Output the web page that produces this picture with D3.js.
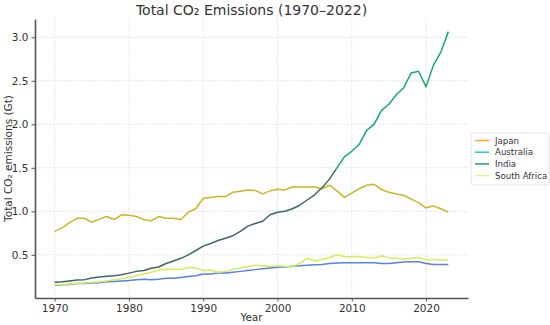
<!DOCTYPE html>
<html>
<head>
<meta charset="utf-8">
<script src="https://cdn.jsdelivr.net/npm/d3@7"></script>
<style>
  body { margin: 0; background: #fff; }
  text { font-family: "DejaVu Sans", sans-serif; }
</style>
</head>
<body>
<script>
const years = d3.range(1970, 2024);

const japan = [0.77, 0.81, 0.87, 0.92, 0.92, 0.875, 0.91, 0.94, 0.905, 0.96,
  0.955, 0.94, 0.905, 0.89, 0.94, 0.92, 0.92, 0.905, 0.99, 1.03,
  1.15, 1.16, 1.17, 1.17, 1.22, 1.23, 1.245, 1.24, 1.20, 1.235,
  1.254, 1.246, 1.28, 1.28, 1.28, 1.28, 1.26, 1.30, 1.235, 1.16,
  1.21, 1.26, 1.30, 1.31, 1.25, 1.22, 1.20, 1.185, 1.14, 1.10,
  1.04, 1.06, 1.03, 0.99];
const australia = [0.15, 0.155, 0.16, 0.17, 0.17, 0.175, 0.18, 0.19, 0.195, 0.20,
  0.205, 0.215, 0.22, 0.215, 0.22, 0.23, 0.23, 0.24, 0.25, 0.26,
  0.28, 0.28, 0.29, 0.29, 0.30, 0.31, 0.32, 0.33, 0.34, 0.35,
  0.356, 0.36, 0.37, 0.375, 0.38, 0.386, 0.39, 0.40, 0.405, 0.41,
  0.41, 0.41, 0.41, 0.41, 0.40, 0.40, 0.41, 0.417, 0.42, 0.42,
  0.40, 0.39, 0.39, 0.39];
const india = [0.186, 0.19, 0.20, 0.21, 0.215, 0.235, 0.245, 0.255, 0.26, 0.27,
  0.29, 0.31, 0.32, 0.345, 0.36, 0.40, 0.43, 0.46, 0.50, 0.55,
  0.60, 0.63, 0.665, 0.69, 0.72, 0.77, 0.83, 0.86, 0.886, 0.96,
  0.99, 1.00, 1.03, 1.07, 1.13, 1.19, 1.27, 1.37, 1.50, 1.625,
  1.69, 1.77, 1.93, 2.00, 2.16, 2.23, 2.34, 2.42, 2.59, 2.61,
  2.43, 2.68, 2.83, 3.065];
const southAfrica = [0.155, 0.16, 0.165, 0.17, 0.175, 0.185, 0.19, 0.20, 0.215, 0.225,
  0.24, 0.26, 0.28, 0.30, 0.325, 0.335, 0.335, 0.335, 0.355, 0.35,
  0.32, 0.325, 0.30, 0.31, 0.33, 0.35, 0.365, 0.38, 0.375, 0.37,
  0.375, 0.37, 0.36, 0.405, 0.46, 0.43, 0.45, 0.47, 0.50, 0.48,
  0.475, 0.48, 0.47, 0.465, 0.49, 0.465, 0.465, 0.45, 0.46, 0.47,
  0.445, 0.445, 0.44, 0.44];

const xTicks = [1970, 1980, 1990, 2000, 2010, 2020];
const yTicks = [0.5, 1.0, 1.5, 2.0, 2.5, 3.0];

const series = [
  {name: 'Japan', values: japan, legend: '#ffa033', stroke: '#cbb428'},
  {name: 'Australia', values: australia, legend: '#22c8d8', stroke: '#5c7fe2'},
  {name: 'India', values: india, legend: '#14a67e', stroke: 'url(#indiaGrad)'},
  {name: 'South Africa', values: southAfrica, legend: '#e6f27e', stroke: '#d6ee58'}
];

const width = 550;
const height = 325;
const margin = {left: 35, right: 82, top: 19, bottom: 27};

const svg = d3.select('body')
  .append('svg')
  .attr('width', width)
  .attr('height', height);

const xScale = d3.scaleLinear()
  .domain([1967.35, 2025.65])
  .range([margin.left, width - margin.right]);

const yScale = d3.scaleLinear()
  .domain([0.004, 3.21])
  .range([height - margin.bottom, margin.top]);

// India line turns from slate to green above 1.5 Gt
const grad = svg.append('defs').append('linearGradient')
  .attr('id', 'indiaGrad')
  .attr('gradientUnits', 'userSpaceOnUse')
  .attr('x1', 0).attr('x2', 0)
  .attr('y1', yScale(0)).attr('y2', yScale(3.2));
const split = (yScale(0) - yScale(1.48)) / (yScale(0) - yScale(3.2));
grad.append('stop').attr('offset', split).attr('stop-color', '#3f6566');
grad.append('stop').attr('offset', split).attr('stop-color', '#14a67e');

// grid
svg.append('g')
  .selectAll('line')
  .data(xTicks)
  .join('line')
  .attr('x1', d => xScale(d)).attr('x2', d => xScale(d))
  .attr('y1', margin.top).attr('y2', height - margin.bottom)
  .attr('stroke', '#d8d8d8').attr('stroke-width', 0.8)
  .attr('stroke-dasharray', '1.5,1.5');

svg.append('g')
  .selectAll('line')
  .data(yTicks)
  .join('line')
  .attr('x1', margin.left).attr('x2', width - margin.right)
  .attr('y1', d => yScale(d)).attr('y2', d => yScale(d))
  .attr('stroke', '#d8d8d8').attr('stroke-width', 0.8)
  .attr('stroke-dasharray', '1.5,1.5');

// axes
const xAxis = d3.axisBottom(xScale)
  .tickValues(xTicks)
  .tickFormat(d3.format('d'))
  .tickSize(3.5)
  .tickSizeOuter(0);
const yAxis = d3.axisLeft(yScale)
  .tickValues(yTicks)
  .tickFormat(d3.format('.1f'))
  .tickSize(3.5)
  .tickSizeOuter(0);

const xG = svg.append('g')
  .attr('transform', `translate(0, ${height - margin.bottom})`)
  .call(xAxis);
const yG = svg.append('g')
  .attr('transform', `translate(${margin.left}, 0)`)
  .call(yAxis);

[xG, yG].forEach(g => {
  g.select('.domain').attr('stroke', '#555').attr('stroke-width', 1.6);
  g.selectAll('.tick line').attr('stroke', '#555');
  g.selectAll('.tick text')
    .attr('fill', '#333')
    .style('font-size', '10.5px')
    .style('font-family', '"DejaVu Sans", sans-serif');
});

// lines
const line = d3.line()
  .x((d, i) => xScale(years[i]))
  .y(d => yScale(d));

svg.append('g')
  .selectAll('path')
  .data(series)
  .join('path')
  .attr('d', d => line(d.values))
  .attr('fill', 'none')
  .attr('stroke', d => d.stroke)
  .attr('stroke-width', 1.5)
  .attr('stroke-linejoin', 'round');

// titles
svg.append('text')
  .attr('x', (margin.left + width - margin.right) / 2)
  .attr('y', 15)
  .attr('text-anchor', 'middle')
  .attr('fill', '#333')
  .style('font-size', '14px')
  .text('Total CO₂ Emissions (1970–2022)');

svg.append('text')
  .attr('x', (margin.left + width - margin.right) / 2)
  .attr('y', 321)
  .attr('text-anchor', 'middle')
  .attr('fill', '#333')
  .style('font-size', '10.5px')
  .text('Year');

svg.append('text')
  .attr('transform', `translate(12, ${(margin.top + height - margin.bottom) / 2}) rotate(-90)`)
  .attr('text-anchor', 'middle')
  .attr('fill', '#333')
  .style('font-size', '10.5px')
  .text('Total CO₂ emissions (Gt)');

// legend
const legend = svg.append('g')
  .attr('transform', 'translate(471, 133)');

legend.append('rect')
  .attr('width', 78).attr('height', 52)
  .attr('rx', 2)
  .attr('fill', '#fff')
  .attr('stroke', '#ddd')
  .attr('stroke-width', 0.8);

const items = legend.selectAll('g')
  .data(series)
  .join('g')
  .attr('transform', (d, i) => `translate(4, ${7.5 + i * 11.7})`);

items.append('line')
  .attr('x1', 0).attr('x2', 14)
  .attr('stroke', d => d.legend)
  .attr('stroke-width', 1.5);

items.append('text')
  .attr('x', 20)
  .attr('dy', '0.35em')
  .attr('fill', '#333')
  .style('font-size', '8.6px')
  .text(d => d.name);
</script>
</body>
</html>
